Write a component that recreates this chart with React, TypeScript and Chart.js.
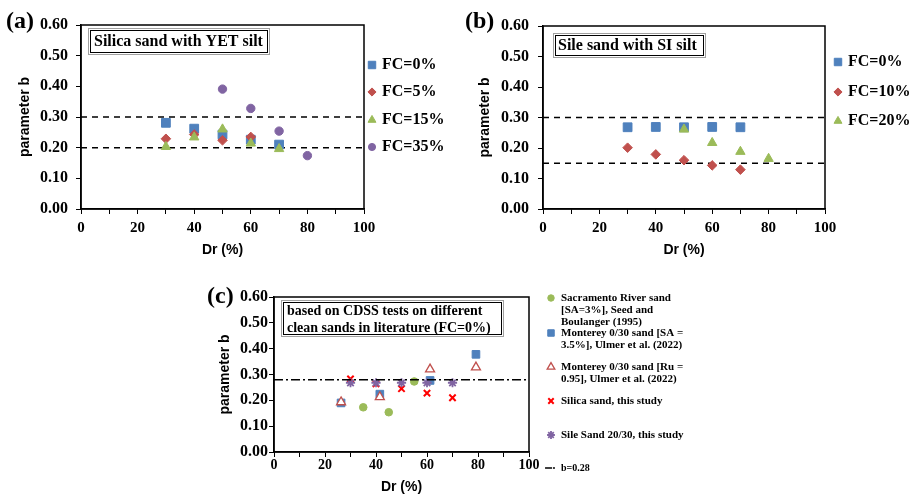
import React, { useEffect, useRef } from 'react';
import { Chart, registerables } from 'chart.js';

Chart.register(...registerables);

// ---------------- data ----------------
// shared axes
const X_MIN = 0;
const X_MAX = 100;
const X_STEP = 10;
const X_LABEL_STEP = 20;
const Y_MIN = 0;
const Y_MAX = 0.6;
const Y_STEP = 0.1;
const X_TITLE = 'Dr (%)';
const Y_TITLE = 'parameter b';

// panel (a): Silica sand with YET silt
const aTitle = ['Silica sand with YET silt'];
const aLegend = ['FC=0%', 'FC=5%', 'FC=15%', 'FC=35%'];
const aFC0Dr = [30, 40, 50, 60, 70];
const aFC0 = [0.281, 0.262, 0.243, 0.226, 0.21];
const aFC5Dr = [30, 40, 50, 60];
const aFC5 = [0.229, 0.243, 0.224, 0.235];
const aFC15Dr = [30, 40, 50, 60, 70];
const aFC15 = [0.203, 0.234, 0.26, 0.214, 0.196];
const aFC35Dr = [50, 60, 70, 80];
const aFC35 = [0.391, 0.328, 0.254, 0.174];
const aRefLines = [0.3, 0.2];

// panel (b): Sile sand with SI silt
const bTitle = ['Sile sand with SI silt'];
const bLegend = ['FC=0%', 'FC=10%', 'FC=20%'];
const bFC0Dr = [30, 40, 50, 60, 70];
const bFC0 = [0.268, 0.269, 0.268, 0.269, 0.268];
const bFC10Dr = [30, 40, 50, 60, 70];
const bFC10 = [0.201, 0.179, 0.16, 0.143, 0.129];
const bFC20Dr = [50, 60, 70, 80];
const bFC20 = [0.261, 0.217, 0.188, 0.165];
const bRefLines = [0.3, 0.15];

// panel (c): clean sands in literature
const cTitle = ['based on CDSS tests on different', 'clean sands in literature (FC=0%)'];
const cLegendSac = ['Sacramento River sand', '[SA=3%], Seed and', 'Boulanger (1995)'];
const cLegendMonSA = ['Monterey 0/30 sand [SA =', '3.5%], Ulmer et al. (2022)'];
const cLegendMonRu = ['Monterey 0/30 sand [Ru =', '0.95], Ulmer et al. (2022)'];
const cLegendSilica = ['Silica sand, this study'];
const cLegendSile = ['Sile Sand 20/30, this study'];
const cLegendRef = ['b=0.28'];
const cSacDr = [35, 45, 55];
const cSacB = [0.173, 0.154, 0.273];
const cMonSADr = [26.3, 41.5, 61.2, 79.2];
const cMonSAB = [0.19, 0.224, 0.277, 0.378];
const cMonRuDr = [26.3, 41.5, 61.2, 79.2];
const cMonRuB = [0.193, 0.213, 0.32, 0.328];
const cSilicaDr = [30, 40, 50, 60, 70];
const cSilicaB = [0.283, 0.264, 0.245, 0.228, 0.21];
const cSileDr = [30, 40, 50, 60, 70];
const cSileB = [0.268, 0.268, 0.268, 0.268, 0.268];
const cRefB = 0.28;

// ---------------- styles ----------------
const SERIF = '"Liberation Serif", "Times New Roman", serif';
const SANS = '"Liberation Sans", Arial, sans-serif';
const BLUE = '#4F81BD';
const RED = '#C0504D';
const GREEN = '#9BBB59';
const PURPLE = '#8064A2';

type Marker = { style: string; r: number; fill: string; stroke: string; lw: number };

const mSquare: Marker = { style: 'rect', r: 6.2, fill: BLUE, stroke: BLUE, lw: 1 };
const mDiamond: Marker = { style: 'rectRot', r: 4.8, fill: RED, stroke: RED, lw: 1 };
const mTri: Marker = { style: 'triangle', r: 5.4, fill: GREEN, stroke: GREEN, lw: 1 };
const mCircle: Marker = { style: 'circle', r: 4.2, fill: PURPLE, stroke: PURPLE, lw: 1 };

const cCircle: Marker = { style: 'circle', r: 3.8, fill: GREEN, stroke: GREEN, lw: 1 };
const cSquare: Marker = { style: 'rect', r: 5.4, fill: BLUE, stroke: BLUE, lw: 1 };
const cTriOpen: Marker = { style: 'triangle', r: 5.2, fill: '#FFFFFF', stroke: RED, lw: 1.3 };
const cCross: Marker = { style: 'crossRot', r: 4.5, fill: 'rgba(0,0,0,0)', stroke: '#FF0000', lw: 2 };
const cStar: Marker = { style: 'star', r: 4.6, fill: 'rgba(0,0,0,0)', stroke: PURPLE, lw: 1.8 };
const cDashDot: Marker = { style: 'dashdot', r: 7, fill: 'rgba(0,0,0,0)', stroke: '#000', lw: 1.5 };

const pts = (xs: number[], ys: number[]) => xs.map((x, i) => ({ x, y: ys[i] }));

function scatterDs(label: string, xs: number[], ys: number[], m: Marker, order: number) {
  return {
    type: 'scatter',
    label,
    data: pts(xs, ys),
    pointStyle: m.style,
    pointRadius: m.r,
    pointHoverRadius: m.r,
    backgroundColor: m.fill,
    borderColor: m.stroke,
    pointBorderWidth: m.lw,
    borderWidth: m.lw,
    showLine: false,
    order,
  };
}

function refDs(y: number, dash: number[], order: number) {
  return {
    type: 'scatter',
    label: '',
    data: pts([X_MIN, X_MAX], [y, y]),
    showLine: true,
    borderColor: '#000',
    backgroundColor: '#000',
    borderWidth: 1.5,
    borderDash: dash,
    pointRadius: 0,
    pointHoverRadius: 0,
    fill: false,
    order,
  };
}

function drawMarker(ctx: CanvasRenderingContext2D, m: Marker, x: number, y: number, scale = 1) {
  const r = m.r * scale;
  ctx.save();
  ctx.lineWidth = m.lw;
  ctx.strokeStyle = m.stroke;
  ctx.fillStyle = m.fill;
  ctx.beginPath();
  let fill = true;
  switch (m.style) {
    case 'rect': {
      const s = r * Math.SQRT1_2;
      ctx.rect(x - s, y - s, 2 * s, 2 * s);
      break;
    }
    case 'rectRot':
      ctx.moveTo(x, y - r);
      ctx.lineTo(x + r, y);
      ctx.lineTo(x, y + r);
      ctx.lineTo(x - r, y);
      ctx.closePath();
      break;
    case 'triangle': {
      let a = 0;
      ctx.moveTo(x + Math.sin(a) * r, y - Math.cos(a) * r);
      a += (2 * Math.PI) / 3;
      ctx.lineTo(x + Math.sin(a) * r, y - Math.cos(a) * r);
      a += (2 * Math.PI) / 3;
      ctx.lineTo(x + Math.sin(a) * r, y - Math.cos(a) * r);
      ctx.closePath();
      break;
    }
    case 'circle':
      ctx.arc(x, y, r, 0, Math.PI * 2);
      break;
    case 'crossRot': {
      fill = false;
      const d = r * Math.SQRT1_2;
      ctx.moveTo(x - d, y - d);
      ctx.lineTo(x + d, y + d);
      ctx.moveTo(x - d, y + d);
      ctx.lineTo(x + d, y - d);
      break;
    }
    case 'star': {
      fill = false;
      const d = r * Math.SQRT1_2;
      ctx.moveTo(x - d, y - d);
      ctx.lineTo(x + d, y + d);
      ctx.moveTo(x - d, y + d);
      ctx.lineTo(x + d, y - d);
      ctx.moveTo(x, y - r);
      ctx.lineTo(x, y + r);
      ctx.moveTo(x - r, y);
      ctx.lineTo(x + r, y);
      break;
    }
    case 'dashdot':
      fill = false;
      ctx.moveTo(x - r, y);
      ctx.lineTo(x - r + 7, y);
      ctx.moveTo(x + r - 4, y);
      ctx.lineTo(x + r - 2, y);
      break;
  }
  if (fill) ctx.fill();
  ctx.stroke();
  ctx.restore();
}

type LegendItem = { marker: Marker; lines: string[]; y: number; size?: number };
type Decor = {
  panel: { text: string; x: number; y: number };
  box: { x: number; y: number; w: number; h: number; lines: string[]; tx: number; ty: number[]; size: number };
  legend: { mx: number; tx: number; size: number; gap: number; mscale: number; items: LegendItem[] };
};

function makeDecor(d: Decor) {
  return {
    id: 'decor',
    afterDraw(chart: any) {
      const ctx: CanvasRenderingContext2D = chart.ctx;
      const a = chart.chartArea;
      ctx.save();
      // plot frame
      ctx.strokeStyle = '#000';
      ctx.lineWidth = 1.5;
      ctx.strokeRect(a.left, a.top, a.right - a.left, a.bottom - a.top);
      // panel label
      ctx.fillStyle = '#000';
      ctx.textAlign = 'left';
      ctx.textBaseline = 'middle';
      ctx.font = `bold 24px ${SERIF}`;
      ctx.fillText(d.panel.text, d.panel.x, d.panel.y);
      // title box
      const b = d.box;
      ctx.fillStyle = '#fff';
      ctx.fillRect(b.x, b.y, b.w, b.h);
      ctx.lineWidth = 1;
      ctx.strokeStyle = '#a0a0a0';
      ctx.strokeRect(b.x - 1.5, b.y - 1.5, b.w + 3, b.h + 3);
      ctx.strokeStyle = '#000';
      ctx.strokeRect(b.x + 0.5, b.y + 0.5, b.w - 1, b.h - 1);
      ctx.fillStyle = '#000';
      ctx.font = `bold ${b.size}px ${SERIF}`;
      b.lines.forEach((t, i) => ctx.fillText(t, b.tx, b.ty[i]));
      // legend
      const L = d.legend;
      L.items.forEach((it) => {
        drawMarker(ctx, it.marker, L.mx, it.y, L.mscale);
        ctx.fillStyle = '#000';
        ctx.font = `bold ${it.size ?? L.size}px ${SERIF}`;
        it.lines.forEach((t, i) => ctx.fillText(t, L.tx, it.y + i * L.gap));
      });
      ctx.restore();
    },
  };
}

type Layout = {
  padL: number; padR: number; padT: number; padB: number; yW: number; xH: number;
  xTickSize: number; yTickSize: number; xTickPad: number; yTickPad: number;
};

function buildOptions(L: Layout) {
  const xTickFont = { family: SERIF, weight: 'bold' as const, size: L.xTickSize };
  const yTickFont = { family: SERIF, weight: 'bold' as const, size: L.yTickSize };
  const titleFont = { family: SANS, weight: 'bold' as const, size: 14, lineHeight: 1 };
  const grid = { display: true, drawOnChartArea: false, drawTicks: true, tickLength: 5, color: '#000', lineWidth: 1 };
  const border = { display: true, color: '#000', width: 1.5 };
  return {
    responsive: false,
    animation: false,
    events: [],
    layout: { padding: { left: L.padL, right: L.padR, top: L.padT, bottom: L.padB } },
    plugins: { legend: { display: false }, tooltip: { enabled: false } },
    scales: {
      x: {
        type: 'linear',
        min: X_MIN,
        max: X_MAX,
        afterFit: (s: any) => {
          s.height = L.xH;
        },
        ticks: {
          stepSize: X_STEP,
          autoSkip: false,
          maxRotation: 0,
          padding: L.xTickPad,
          color: '#000',
          font: xTickFont,
          callback: (v: any) => (Math.round(Number(v)) % X_LABEL_STEP === 0 ? String(Math.round(Number(v))) : ''),
        },
        grid,
        border,
        title: { display: true, text: X_TITLE, color: '#000', font: titleFont, padding: 0 },
      },
      y: {
        type: 'linear',
        min: Y_MIN,
        max: Y_MAX,
        afterFit: (s: any) => {
          s.width = L.yW;
        },
        ticks: {
          stepSize: Y_STEP,
          padding: L.yTickPad,
          color: '#000',
          font: yTickFont,
          callback: (v: any) => Number(v).toFixed(2),
        },
        grid,
        border,
        title: { display: true, text: Y_TITLE, color: '#000', font: titleFont, padding: 0 },
      },
    },
  };
}

function configA(): any {
  return {
    type: 'scatter',
    data: {
      datasets: [
        refDs(aRefLines[0], [6, 5], 10),
        refDs(aRefLines[1], [6, 5], 10),
        scatterDs(aLegend[0], aFC0Dr, aFC0, mSquare, 4),
        scatterDs(aLegend[1], aFC5Dr, aFC5, mDiamond, 3),
        scatterDs(aLegend[2], aFC15Dr, aFC15, mTri, 2),
        scatterDs(aLegend[3], aFC35Dr, aFC35, mCircle, 1),
      ],
    },
    options: buildOptions({
      padL: 18, padR: 96, padT: 25, padB: 5, yW: 63, xH: 48,
      xTickSize: 15, yTickSize: 16, xTickPad: 5, yTickPad: 8,
    }),
    plugins: [
      makeDecor({
        panel: { text: '(a)', x: 6, y: 22 },
        box: { x: 90, y: 30, w: 178, h: 23, lines: aTitle, tx: 94, ty: [42], size: 16 },
        legend: {
          mx: 372,
          tx: 382,
          size: 16,
          gap: 16,
          mscale: 0.85,
          items: [
            { marker: mSquare, lines: [aLegend[0]], y: 65 },
            { marker: mDiamond, lines: [aLegend[1]], y: 92 },
            { marker: mTri, lines: [aLegend[2]], y: 120 },
            { marker: mCircle, lines: [aLegend[3]], y: 147 },
          ],
        },
      }),
    ],
  };
}

function configB(): any {
  return {
    type: 'scatter',
    data: {
      datasets: [
        refDs(bRefLines[0], [6, 5], 10),
        refDs(bRefLines[1], [6, 5], 10),
        scatterDs(bLegend[0], bFC0Dr, bFC0, mSquare, 3),
        scatterDs(bLegend[1], bFC10Dr, bFC10, mDiamond, 2),
        scatterDs(bLegend[2], bFC20Dr, bFC20, mTri, 1),
      ],
    },
    options: buildOptions({
      padL: 18, padR: 90, padT: 26, padB: 5, yW: 65, xH: 48,
      xTickSize: 15, yTickSize: 16, xTickPad: 5, yTickPad: 9,
    }),
    plugins: [
      makeDecor({
        panel: { text: '(b)', x: 5, y: 22 },
        box: { x: 95, y: 35, w: 149, h: 21, lines: bTitle, tx: 98, ty: [46], size: 16 },
        legend: {
          mx: 378,
          tx: 388,
          size: 16,
          gap: 16,
          mscale: 0.85,
          items: [
            { marker: mSquare, lines: [bLegend[0]], y: 62 },
            { marker: mDiamond, lines: [bLegend[1]], y: 92 },
            { marker: mTri, lines: [bLegend[2]], y: 121 },
          ],
        },
      }),
    ],
  };
}

function configC(): any {
  return {
    type: 'scatter',
    data: {
      datasets: [
        scatterDs(cLegendSac.join(' '), cSacDr, cSacB, cCircle, 6),
        scatterDs(cLegendMonSA.join(' '), cMonSADr, cMonSAB, cSquare, 5),
        scatterDs(cLegendMonRu.join(' '), cMonRuDr, cMonRuB, cTriOpen, 4),
        scatterDs(cLegendSilica[0], cSilicaDr, cSilicaB, cCross, 3),
        scatterDs(cLegendSile[0], cSileDr, cSileB, cStar, 2),
        refDs(cRefB, [9, 3, 2, 3], 0),
      ],
    },
    options: buildOptions({
      padL: 18, padR: 386, padT: 17, padB: 0, yW: 56, xH: 42,
      xTickSize: 14, yTickSize: 16, xTickPad: 0, yTickPad: 1,
    }),
    plugins: [
      makeDecor({
        panel: { text: '(c)', x: 7, y: 17 },
        box: { x: 83, y: 22, w: 219, h: 33, lines: cTitle, tx: 87, ty: [31, 48], size: 14 },
        legend: {
          mx: 351,
          tx: 361,
          size: 11,
          gap: 12.2,
          mscale: 0.85,
          items: [
            { marker: cCircle, lines: cLegendSac, y: 18 },
            { marker: cSquare, lines: cLegendMonSA, y: 53 },
            { marker: cTriOpen, lines: cLegendMonRu, y: 87 },
            { marker: cCross, lines: cLegendSilica, y: 121 },
            { marker: cStar, lines: cLegendSile, y: 155 },
            { marker: cDashDot, lines: cLegendRef, y: 188, size: 10 },
          ],
        },
      }),
    ],
  };
}

export default function App() {
  const refA = useRef<HTMLCanvasElement>(null);
  const refB = useRef<HTMLCanvasElement>(null);
  const refC = useRef<HTMLCanvasElement>(null);

  useEffect(() => {
    const charts = [
      new Chart(refA.current as HTMLCanvasElement, configA()),
      new Chart(refB.current as HTMLCanvasElement, configB()),
      new Chart(refC.current as HTMLCanvasElement, configC()),
    ];
    return () => charts.forEach((c) => c.destroy());
  }, []);

  const abs = (left: number, top: number, w: number, h: number): React.CSSProperties => ({
    position: 'absolute',
    left,
    top,
    width: w,
    height: h,
  });

  return (
    <div style={{ position: 'absolute', left: 0, top: 0, width: 915, height: 494, overflow: 'hidden', background: '#fff' }}>
      <canvas ref={refA} width={460} height={262} style={abs(0, 0, 460, 262)} />
      <canvas ref={refB} width={455} height={262} style={abs(460, 0, 455, 262)} />
      <canvas ref={refC} width={715} height={214} style={abs(200, 280, 715, 214)} />
    </div>
  );
}
